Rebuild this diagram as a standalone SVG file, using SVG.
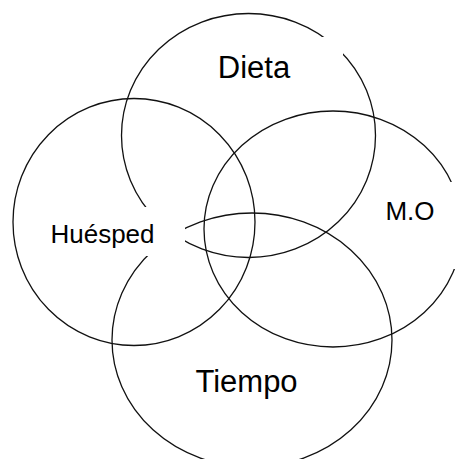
<svg xmlns="http://www.w3.org/2000/svg" width="456" height="459" viewBox="0 0 456 459">
  <style>
    .ring { fill: none; stroke: #111; stroke-width: 1.3; }
    .mask { fill: #ffffff; stroke: none; }
    .lbl { font-family: "Liberation Sans", Arial, sans-serif; fill: #000; text-anchor: middle; }
  </style>
  <rect x="0" y="0" width="456" height="459" fill="#ffffff"/>
  <g id="circles">
    <g id="node-dieta"><ellipse class="ring" cx="248.5" cy="135.5" rx="127" ry="122"/></g>
    <g id="node-huesped"><ellipse class="ring" cx="134" cy="222" rx="121" ry="123.5"/></g>
    <g id="node-mo"><ellipse class="ring" cx="333" cy="229" rx="129" ry="118"/></g>
    <g id="node-tiempo"><ellipse class="ring" cx="252" cy="340" rx="140" ry="127"/></g>
  </g>
  <g id="labels">
    <g id="label-dieta">
      <rect class="mask" x="197" y="37" width="146" height="73"/>
      <text class="lbl" x="254" y="78" font-size="31">Dieta</text>
    </g>
    <g id="label-huesped">
      <rect class="mask" x="28" y="207" width="157" height="49"/>
      <text class="lbl" x="102.5" y="243" font-size="26">Huésped</text>
    </g>
    <g id="label-mo">
      <rect class="mask" x="378" y="182" width="78" height="87"/>
      <text class="lbl" x="410" y="219.5" font-size="26">M.O</text>
    </g>
    <g id="label-tiempo">
      <rect class="mask" x="173" y="352" width="170" height="60"/>
      <text class="lbl" x="246.5" y="392" font-size="31">Tiempo</text>
    </g>
  </g>
</svg>
